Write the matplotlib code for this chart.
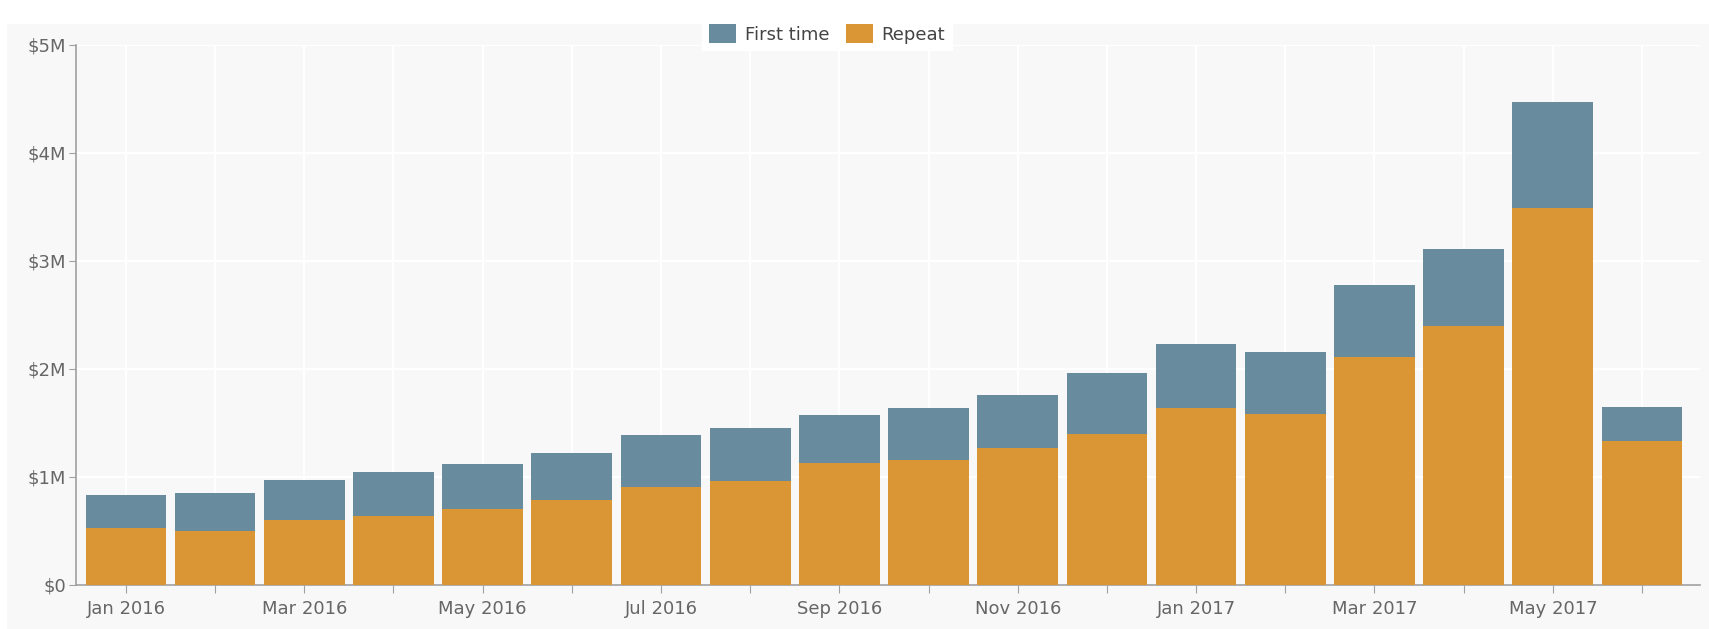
import matplotlib.pyplot as plt
from matplotlib.patches import Rectangle
from matplotlib.ticker import FuncFormatter

months = ["Jan 2016", "Feb 2016", "Mar 2016", "Apr 2016", "May 2016", "Jun 2016",
          "Jul 2016", "Aug 2016", "Sep 2016", "Oct 2016", "Nov 2016", "Dec 2016",
          "Jan 2017", "Feb 2017", "Mar 2017", "Apr 2017", "May 2017", "Jun 2017"]

# values in $M
repeat = [0.53, 0.50, 0.60, 0.635, 0.70, 0.79, 0.91, 0.96, 1.13, 1.16, 1.27, 1.40,
          1.64, 1.58, 2.11, 2.40, 3.49, 1.33]
total = [0.83, 0.85, 0.97, 1.05, 1.12, 1.22, 1.39, 1.45, 1.57, 1.64, 1.76, 1.96,
         2.23, 2.16, 2.78, 3.11, 4.47, 1.65]
first_time = [t - r for t, r in zip(total, repeat)]

blue = "#688c9e"
orange = "#da9535"
grey_txt = "#666666"
bg = "#f8f8f8"

fig = plt.figure(figsize=(17.09, 6.29), dpi=100, facecolor="white")
W, H = 1709, 629
# light grey panel behind the chart
fig.patches.append(Rectangle((7 / W, 0), 1, 1 - 24 / H, transform=fig.transFigure,
                             facecolor=bg, edgecolor="none", zorder=-10))

ax = fig.add_axes([76 / W, 1 - 585 / H, (1700 - 76) / W, (585 - 45) / H])
ax.set_facecolor(bg)

x = list(range(len(months)))
ax.bar(x, repeat, width=0.905, color=orange, label="Repeat", zorder=3)
ax.bar(x, first_time, width=0.905, bottom=repeat, color=blue, label="First time", zorder=3)

ax.set_xlim(-0.56, 17.65)
ax.set_ylim(0, 5)
ax.set_yticks([0, 1, 2, 3, 4, 5])
ax.yaxis.set_major_formatter(FuncFormatter(lambda v, p: "$0" if v == 0 else f"${v:.0f}M"))
ax.set_xticks(x)
ax.set_xticklabels([m if i % 2 == 0 else "" for i, m in enumerate(months)])

ax.grid(True, color="white", linewidth=1.5, zorder=1)
for s in ["top", "right"]:
    ax.spines[s].set_visible(False)
for s in ["left", "bottom"]:
    ax.spines[s].set_color("#a0a0a0")
    ax.spines[s].set_linewidth(1.2)
ax.tick_params(axis="both", colors="#a0a0a0", labelcolor=grey_txt, labelsize=13, length=6)
ax.tick_params(axis="x", pad=5)
ax.tick_params(axis="y", pad=2, length=5)

handles, labels = ax.get_legend_handles_labels()
leg = fig.legend(handles[::-1], labels[::-1], loc="center", bbox_to_anchor=(827 / W, 1 - 34 / H),
                 ncol=2, frameon=True, fontsize=13, handlelength=1.5, handleheight=1.2,
                 columnspacing=0.9, handletextpad=0.5, borderpad=0.35, fancybox=False)
leg.get_frame().set_facecolor("white")
leg.get_frame().set_edgecolor("white")
leg.get_frame().set_alpha(1)
for t in leg.get_texts():
    t.set_color("#444444")

fig.savefig("out.png", dpi=100, facecolor=fig.get_facecolor())
